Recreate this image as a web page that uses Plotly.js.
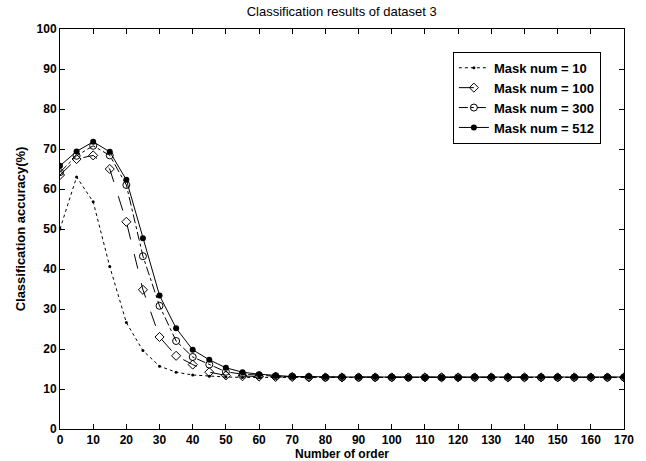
<!DOCTYPE html>
<html>
<head>
<meta charset="utf-8">
<script src="https://cdn.plot.ly/plotly-3.0.1.min.js"></script>
<style>html,body{margin:0;padding:0;background:#fff;}#chart{width:646px;height:461px;}</style>
</head>
<body>
<div id="chart"></div>
<script>
var orders = [0,5,10,15,20,25,30,35,40,45,50,55,60,65,70,75,80,85,90,95,100,105,110,115,120,125,130,135,140,145,150,155,160,165,170];
var mask10 = [50.0,63.0,56.8,40.6,26.6,19.6,15.7,14.2,13.5,13.2,13.0,12.9,12.9,12.9,12.9,12.9,12.9,12.9,12.9,12.9,12.9,12.9,12.9,12.9,12.9,12.9,12.9,12.9,12.9,12.9,12.9,12.9,12.9,12.9,12.9];
var mask100 = [63.5,67.5,68.4,65.0,51.8,34.8,23.0,18.3,16.1,14.2,13.4,13.2,13.1,13.0,13.0,12.9,12.9,12.9,12.9,12.9,12.9,12.9,12.9,12.9,12.9,12.9,12.9,12.9,12.9,12.9,12.9,12.9,12.9,12.9,12.9];
var mask300 = [64.2,68.3,70.8,68.4,61.0,43.2,30.8,22.0,18.0,16.1,14.3,13.7,13.4,13.2,13.1,13.0,12.9,12.9,12.9,12.9,12.9,12.9,12.9,12.9,12.9,12.9,12.9,12.9,12.9,12.9,12.9,12.9,12.9,12.9,12.9];
var mask512 = [65.8,69.4,71.8,69.3,62.3,47.7,33.4,25.2,19.8,17.3,15.3,14.2,13.7,13.4,13.1,13.1,13.0,13.0,13.0,13.0,13.0,12.9,12.9,12.9,12.9,13.0,13.0,13.0,13.0,13.0,13.0,13.0,13.0,13.0,13.0];
var seriesNames = ["Mask num = 10","Mask num = 100","Mask num = 300","Mask num = 512"];
var xTicks = [0,10,20,30,40,50,60,70,80,90,100,110,120,130,140,150,160,170];
var yTicks = [0,10,20,30,40,50,60,70,80,90,100];

var traces = [
  {x: orders, y: mask10, name: seriesNames[0], mode: 'lines+markers',
   line: {color: '#000', width: 1, dash: 'dot'}, marker: {symbol: 'circle', size: 3, color: '#000'}},
  {x: orders, y: mask100, name: seriesNames[1], mode: 'lines+markers',
   line: {color: '#000', width: 1, dash: 'longdash'}, marker: {symbol: 'diamond-open', size: 7, color: '#000', line: {width: 1}}},
  {x: orders, y: mask300, name: seriesNames[2], mode: 'lines+markers',
   line: {color: '#000', width: 1, dash: 'dashdot'}, marker: {symbol: 'circle-open', size: 7, color: '#000', line: {width: 1}}},
  {x: orders, y: mask512, name: seriesNames[3], mode: 'lines+markers',
   line: {color: '#000', width: 1, dash: 'solid'}, marker: {symbol: 'circle', size: 6, color: '#000'}}
];

var fam = 'Liberation Sans, Arial, sans-serif';
var tickFont = {family: fam, size: 12, color: '#000', weight: 'bold'};
var layout = {
  width: 646, height: 461,
  margin: {l: 60, r: 22, t: 29, b: 32},
  paper_bgcolor: '#fff', plot_bgcolor: '#fff',
  hovermode: false,
  title: {text: 'Classification results of dataset 3', x: 0.529, xanchor: 'center', y: 0.976, yanchor: 'middle',
          font: {family: fam, size: 13, color: '#000'}},
  xaxis: {range: [0, 170], tickvals: xTicks, ticktext: xTicks.map(String), ticks: 'inside', ticklen: 5,
          tickcolor: '#000', showline: true, linecolor: '#000', linewidth: 1, mirror: 'ticks',
          showgrid: false, zeroline: false, tickfont: tickFont, ticklabelstandoff: 0,
          title: {text: 'Number of order', standoff: 0, font: {family: fam, size: 12, color: '#000', weight: 'bold'}}},
  yaxis: {range: [0, 100], tickvals: yTicks, ticktext: yTicks.map(String), ticks: 'inside', ticklen: 5,
          tickcolor: '#000', showline: true, linecolor: '#000', linewidth: 1, mirror: 'ticks',
          showgrid: false, zeroline: false, tickfont: tickFont,
          title: {text: 'Classification accuracy(%)', standoff: 8, font: {family: fam, size: 13, color: '#000', weight: 'bold'}}},
  legend: {x: 0.959, xanchor: 'right', y: 0.943, yanchor: 'top', bgcolor: '#fff', bordercolor: '#000', borderwidth: 1,
           font: {family: fam, size: 13, color: '#000', weight: 'bold'},
           tracegroupgap: 0, itemwidth: 30, entrywidth: 0}
};
Plotly.newPlot('chart', traces, layout, {staticPlot: true, displayModeBar: false});
</script>
</body>
</html>
